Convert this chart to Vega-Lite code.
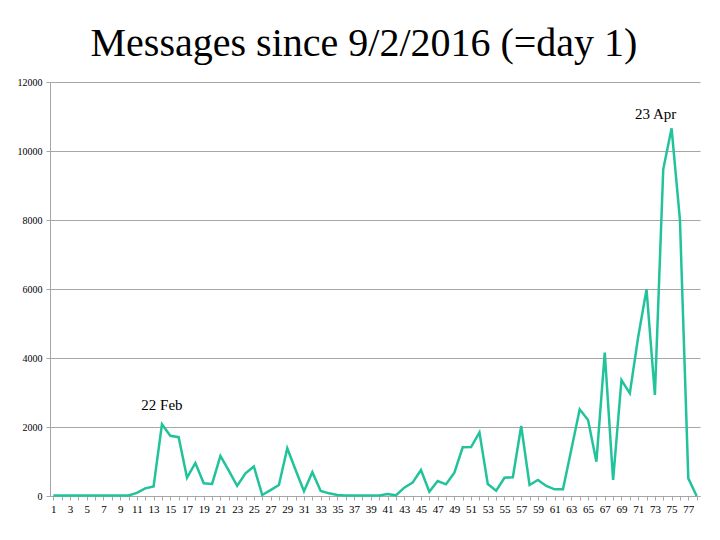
{
  "$schema": "https://vega.github.io/schema/vega-lite/v6.json",
  "width": 650,
  "height": 414,
  "autosize": {"type": "none"},
  "padding": {"left": 50, "top": 82, "right": 20, "bottom": 44},
  "background": "white",
  "config": {"view": {"stroke": null}, "font": "Liberation Serif", "axis": {"labelOverlap": false}},
  "title": {
    "text": "Messages since 9/2/2016 (=day 1)",
    "font": "Liberation Serif",
    "fontSize": 40,
    "fontWeight": "normal",
    "color": "black",
    "baseline": "alphabetic",
    "offset": -19,
    "dx": -11
  },
  "datasets": {
    "msgs": [
      {"day": 1, "messages": 12}, {"day": 2, "messages": 12}, {"day": 3, "messages": 12},
      {"day": 4, "messages": 12}, {"day": 5, "messages": 12}, {"day": 6, "messages": 12},
      {"day": 7, "messages": 12}, {"day": 8, "messages": 12}, {"day": 9, "messages": 12},
      {"day": 10, "messages": 15}, {"day": 11, "messages": 90}, {"day": 12, "messages": 222},
      {"day": 13, "messages": 275}, {"day": 14, "messages": 2078}, {"day": 15, "messages": 1745},
      {"day": 16, "messages": 1705}, {"day": 17, "messages": 531}, {"day": 18, "messages": 957},
      {"day": 19, "messages": 367}, {"day": 20, "messages": 350}, {"day": 21, "messages": 1160},
      {"day": 22, "messages": 734}, {"day": 23, "messages": 295}, {"day": 24, "messages": 657},
      {"day": 25, "messages": 855}, {"day": 26, "messages": 30}, {"day": 27, "messages": 170},
      {"day": 28, "messages": 319}, {"day": 29, "messages": 1382}, {"day": 30, "messages": 754},
      {"day": 31, "messages": 140}, {"day": 32, "messages": 690}, {"day": 33, "messages": 145},
      {"day": 34, "messages": 77}, {"day": 35, "messages": 30}, {"day": 36, "messages": 12},
      {"day": 37, "messages": 12}, {"day": 38, "messages": 12}, {"day": 39, "messages": 12},
      {"day": 40, "messages": 12}, {"day": 41, "messages": 58}, {"day": 42, "messages": 20},
      {"day": 43, "messages": 242}, {"day": 44, "messages": 386}, {"day": 45, "messages": 754},
      {"day": 46, "messages": 126}, {"day": 47, "messages": 435}, {"day": 48, "messages": 338},
      {"day": 49, "messages": 676}, {"day": 50, "messages": 1411}, {"day": 51, "messages": 1420},
      {"day": 52, "messages": 1845}, {"day": 53, "messages": 348}, {"day": 54, "messages": 154},
      {"day": 55, "messages": 530}, {"day": 56, "messages": 545}, {"day": 57, "messages": 2029},
      {"day": 58, "messages": 319}, {"day": 59, "messages": 464}, {"day": 60, "messages": 290},
      {"day": 61, "messages": 193}, {"day": 62, "messages": 193}, {"day": 63, "messages": 1350},
      {"day": 64, "messages": 2512}, {"day": 65, "messages": 2203}, {"day": 66, "messages": 995},
      {"day": 67, "messages": 4155}, {"day": 68, "messages": 464}, {"day": 69, "messages": 3362},
      {"day": 70, "messages": 2976}, {"day": 71, "messages": 4610}, {"day": 72, "messages": 5990},
      {"day": 73, "messages": 2928}, {"day": 74, "messages": 9470}, {"day": 75, "messages": 10658},
      {"day": 76, "messages": 8000}, {"day": 77, "messages": 512}, {"day": 78, "messages": 0}
    ],
    "notes": [
      {"day": 14.0, "messages": 2640, "label": "22 Feb"},
      {"day": 73.1, "messages": 11070, "label": "23 Apr"}
    ]
  },
  "encoding": {
    "x": {
      "field": "day", "type": "quantitative",
      "scale": {"domain": [0.6, 78.4], "nice": false, "zero": false},
      "axis": {
        "title": null,
        "values": [1,2,3,4,5,6,7,8,9,10,11,12,13,14,15,16,17,18,19,20,21,22,23,24,25,26,27,28,29,30,31,32,33,34,35,36,37,38,39,40,41,42,43,44,45,46,47,48,49,50,51,52,53,54,55,56,57,58,59,60,61,62,63,64,65,66,67,68,69,70,71,72,73,74,75,76,77,78],
        "labelExpr": "datum.value % 2 == 1 ? datum.label : ''",
        "labelOverlap": false,
        "labelFont": "Liberation Serif",
        "labelFontSize": 11,
        "labelColor": "black",
        "labelPadding": 3,
        "grid": false,
        "domainColor": "#a6a6a6",
        "tickColor": "#a6a6a6",
        "tickSize": 4
      }
    },
    "y": {
      "field": "messages", "type": "quantitative",
      "scale": {"domain": [0, 12000], "nice": false},
      "axis": {
        "title": null,
        "values": [0, 2000, 4000, 6000, 8000, 10000, 12000],
        "format": "d",
        "labelFont": "Liberation Serif",
        "labelFontSize": 10,
        "labelColor": "black",
        "labelPadding": 4,
        "grid": true,
        "gridColor": "#a6a6a6",
        "gridOpacity": 1,
        "domainColor": "#a6a6a6",
        "tickColor": "#a6a6a6",
        "tickSize": 4
      }
    }
  },
  "layer": [
    {
      "data": {"name": "msgs"},
      "mark": {"type": "line", "color": "#22c39b", "strokeWidth": 2.5, "strokeJoin": "miter"}
    },
    {
      "data": {"name": "notes"},
      "mark": {"type": "text", "font": "Liberation Serif", "fontSize": 15, "color": "black", "align": "center", "baseline": "middle"},
      "encoding": {
        "text": {"field": "label"}
      }
    }
  ]
}
